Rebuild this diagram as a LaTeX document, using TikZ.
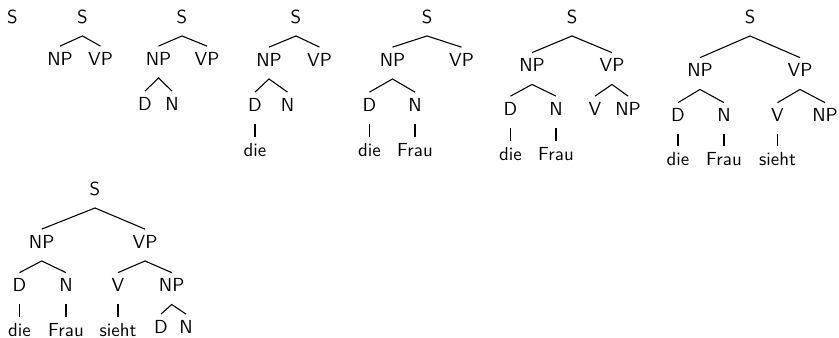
\documentclass[tikz,border=0pt]{standalone}
\begin{document}
\begin{tikzpicture}[x=0.5556pt,y=-0.5556pt,
		every node/.style={font=\fontsize{10.5}{12}\sffamily,anchor=base,inner xsep=0pt,inner ysep=3pt,text height=7.29pt,text depth=4pt},
		edge/.style={draw,line width=0.6pt}]
	\useasboundingbox (0,0) rectangle (839,337);
	% tree 1
	\node (s1) at (12.5,23) {S};
	% tree 2
	\node (s2) at (82.5,23) {S};
	\node (np2) at (60,65) {NP};
	\node (vp2) at (100.5,65) {VP};
	\draw[edge] (np2.north) -- (s2.south) -- (vp2.north);
	% tree 3
	\node (s3) at (182,23) {S};
	\node (np3) at (158.5,65) {NP};
	\node (vp3) at (207,65) {VP};
	\node (d3) at (145,110) {D};
	\node (n3) at (172,110) {N};
	\draw[edge] (np3.north) -- (s3.south) -- (vp3.north);
	\draw[edge] (d3.north) -- (np3.south) -- (n3.north);
	% tree 4
	\node (s4) at (296,23) {S};
	\node (np4) at (269,66) {NP};
	\node (vp4) at (319.5,66) {VP};
	\node (d4) at (255,111) {D};
	\node (n4) at (287.5,111) {N};
	\node (die4) at (255,156) {die};
	\draw[edge] (np4.north) -- (s4.south) -- (vp4.north);
	\draw[edge] (d4.north) -- (np4.south) -- (n4.north);
	\draw[edge] (d4.south) -- (die4.north);
	% tree 5
	\node (s5) at (427,23) {S};
	\node (np5) at (392.5,66) {NP};
	\node (vp5) at (461.5,66) {VP};
	\node (d5) at (369.5,111) {D};
	\node (n5) at (415,111) {N};
	\node (die5) at (369.5,156) {die};
	\node (frau5) at (415,156) {Frau};
	\draw[edge] (np5.north) -- (s5.south) -- (vp5.north);
	\draw[edge] (d5.north) -- (np5.south) -- (n5.north);
	\draw[edge] (d5.south) -- (die5.north);
	\draw[edge] (n5.south) -- (frau5.north);
	% tree 6
	\node (s6) at (572,23) {S};
	\node (np6a) at (532,71.5) {NP};
	\node (vp6) at (612,71.5) {VP};
	\node (d6) at (510.5,115) {D};
	\node (n6) at (556,115) {N};
	\node (v6) at (595,115) {V};
	\node (np6b) at (628,115) {NP};
	\node (die6) at (510.5,160) {die};
	\node (frau6) at (556,160) {Frau};
	\draw[edge] (np6a.north) -- (s6.south) -- (vp6.north);
	\draw[edge] (d6.north) -- (np6a.south) -- (n6.north);
	\draw[edge] (v6.north) -- (vp6.south) -- (np6b.north);
	\draw[edge] (d6.south) -- (die6.north);
	\draw[edge] (n6.south) -- (frau6.north);
	% tree 7
	\node (s7) at (750,23) {S};
	\node (np7a) at (700,76.5) {NP};
	\node (vp7) at (800,76.5) {VP};
	\node (d7) at (678,121.5) {D};
	\node (n7) at (724,121.5) {N};
	\node (v7) at (777.5,121.5) {V};
	\node (np7b) at (825,121.5) {NP};
	\node (die7) at (678,165) {die};
	\node (frau7) at (724,165) {Frau};
	\node (sieht7) at (777.5,165) {sieht};
	\draw[edge] (np7a.north) -- (s7.south) -- (vp7.north);
	\draw[edge] (d7.north) -- (np7a.south) -- (n7.north);
	\draw[edge] (v7.north) -- (vp7.south) -- (np7b.north);
	\draw[edge] (d7.south) -- (die7.north);
	\draw[edge] (n7.south) -- (frau7.north);
	\draw[edge] (v7.south) -- (sieht7.north);
	% tree 8
	\node (s8) at (95,195) {S};
	\node (np8a) at (41.7,248) {NP};
	\node (vp8) at (145,248) {VP};
	\node (d8) at (19.5,291.5) {D};
	\node (n8) at (66,291.5) {N};
	\node (v8) at (118,291.5) {V};
	\node (np8b) at (171.7,291.5) {NP};
	\node (die8) at (19.5,336) {die};
	\node (frau8) at (66,336) {Frau};
	\node (sieht8) at (118,336) {sieht};
	\node (d8b) at (161,333) {D};
	\node (n8b) at (186,333) {N};
	\draw[edge] (np8a.north) -- (s8.south) -- (vp8.north);
	\draw[edge] (d8.north) -- (np8a.south) -- (n8.north);
	\draw[edge] (v8.north) -- (vp8.south) -- (np8b.north);
	\draw[edge] (d8.south) -- (die8.north);
	\draw[edge] (n8.south) -- (frau8.north);
	\draw[edge] (v8.south) -- (sieht8.north);
	\draw[edge] (d8b.north) -- (np8b.south) -- (n8b.north);
\end{tikzpicture}
\end{document}
